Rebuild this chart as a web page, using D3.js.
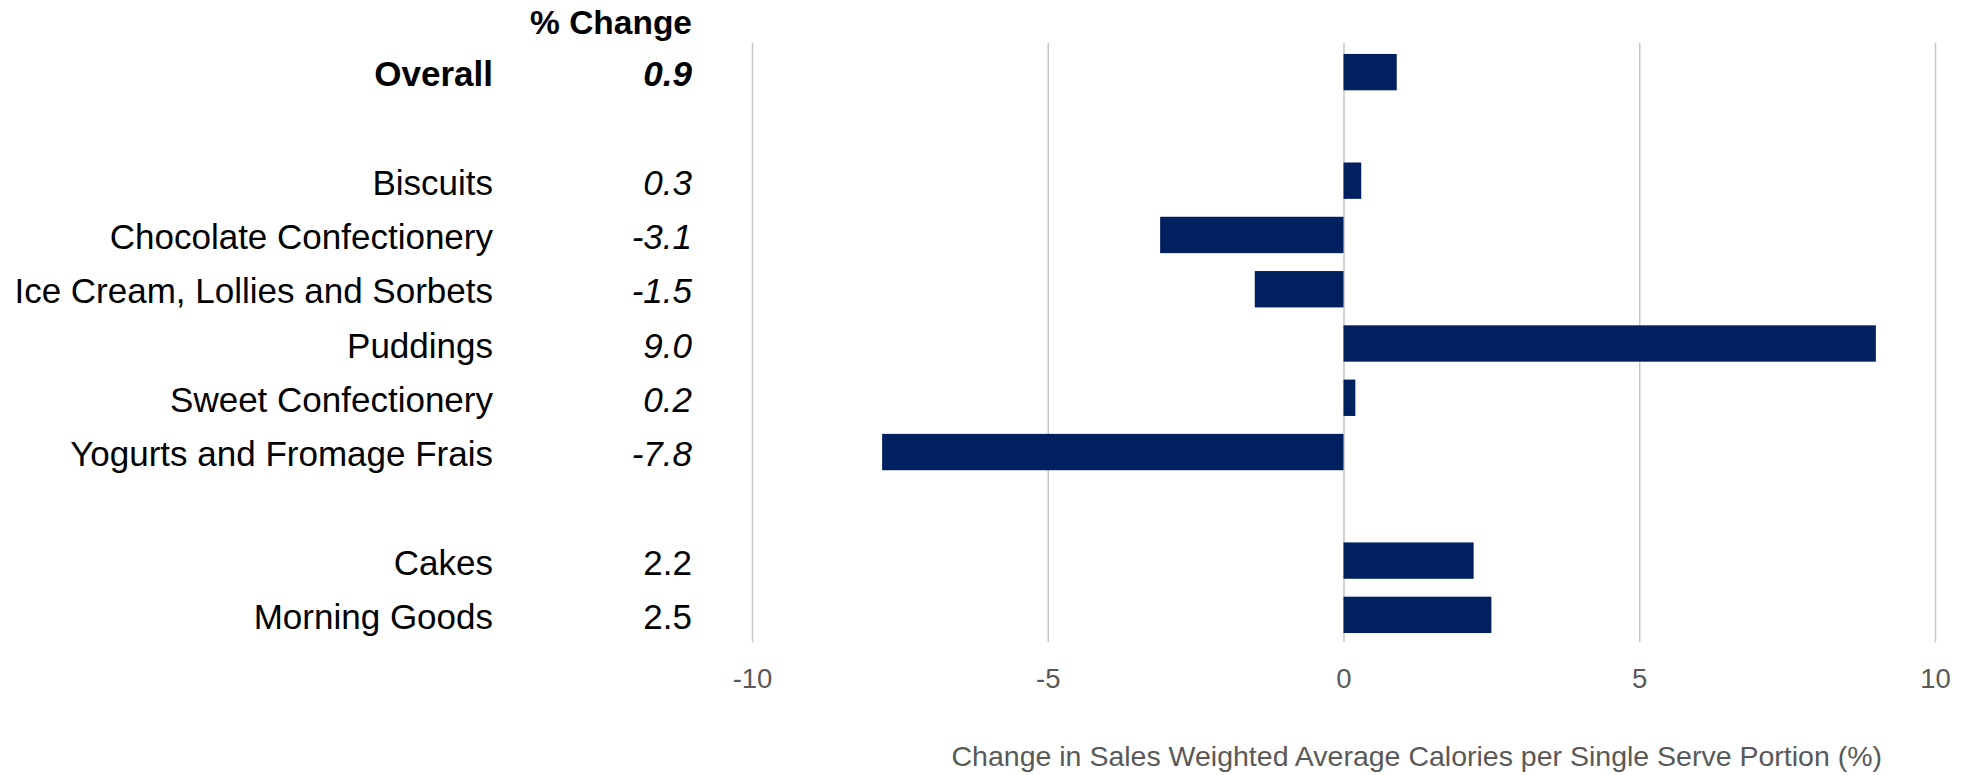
<!DOCTYPE html>
<html>
<head>
<meta charset="utf-8">
<script src="https://cdn.jsdelivr.net/npm/d3@7"></script>
<style>
  body { margin: 0; background: #fff; }
  svg { font-family: "Liberation Sans", Arial, sans-serif; }
  .grid line { stroke: #c6c6c6; stroke-width: 1.5; }
  .grid text { fill: #595959; font-size: 27.5px; }
</style>
</head>
<body>
<svg></svg>
<script>
//Chart data (blank rows are the gaps between groups)
const categories = ["Overall", "", "Biscuits", "Chocolate Confectionery", "Ice Cream, Lollies and Sorbets",
                    "Puddings", "Sweet Confectionery", "Yogurts and Fromage Frais", "", "Cakes", "Morning Goods"];
const values = [0.9, null, 0.3, -3.1, -1.5, 9.0, 0.2, -7.8, null, 2.2, 2.5];
const valueLabels = ["0.9", "", "0.3", "-3.1", "-1.5", "9.0", "0.2", "-7.8", "", "2.2", "2.5"];
const italicLabels = [true, false, true, true, true, true, true, true, false, false, false];
const xTicks = [-10, -5, 0, 5, 10];
const headerText = "% Change";
const axisTitle = "Change in Sales Weighted Average Calories per Single Serve Portion (%)";

function drawChart(){
  const w = 1973;
  const h = 775;
  const gridTop = 43;
  const gridBottom = 642;

  const chart = d3.select("svg")
                  .attr("width", w)
                  .attr("height", h);

  //Scales
  const x = d3.scaleLinear()
              .domain([-10, 10])
              .range([752, 1935]);

  const y = d3.scaleBand()
              .domain(d3.range(categories.length))
              .range([45, gridBottom])
              .paddingInner(0.33)
              .paddingOuter(0.165);

  //Gridlines + tick labels
  const axis = d3.axisBottom(x)
                 .tickValues(xTicks)
                 .tickSize(-(gridBottom - gridTop))
                 .tickPadding(26)
                 .tickFormat(d3.format("d"));

  chart.append("g")
       .attr("class", "grid")
       .attr("transform", `translate(0, ${gridBottom})`)
       .call(axis)
       .call(g => g.select(".domain").remove())
       .call(g => g.selectAll("text").text(d => String(d)).attr("font-family", null).attr("font-size", null));

  //Bars
  const rows = categories.map((c, i) => ({ i: i, name: c, value: values[i] }))
                         .filter(d => d.value !== null);

  chart.append("g")
       .selectAll("rect")
       .data(rows)
       .enter()
       .append("rect")
       .attr("x", d => x(Math.min(0, d.value)))
       .attr("y", d => y(d.i))
       .attr("width", d => Math.abs(x(d.value) - x(0)))
       .attr("height", y.bandwidth())
       .attr("fill", "#002060");

  //Category labels
  chart.append("g")
       .selectAll("text")
       .data(rows)
       .enter()
       .append("text")
       .attr("x", 493)
       .attr("y", d => y(d.i) + y.bandwidth() / 2)
       .attr("dy", "0.4em")
       .attr("text-anchor", "end")
       .attr("font-size", 35)
       .attr("font-weight", d => d.i === 0 ? "bold" : "normal")
       .attr("fill", "#000")
       .text(d => d.name);

  //Value labels
  chart.append("g")
       .selectAll("text")
       .data(rows)
       .enter()
       .append("text")
       .attr("x", 692)
       .attr("y", d => y(d.i) + y.bandwidth() / 2)
       .attr("dy", "0.4em")
       .attr("text-anchor", "end")
       .attr("font-size", 35)
       .attr("font-weight", d => d.i === 0 ? "bold" : "normal")
       .attr("font-style", d => italicLabels[d.i] ? "italic" : "normal")
       .attr("fill", "#000")
       .text(d => valueLabels[d.i]);

  //Header
  chart.append("text")
       .attr("x", 692)
       .attr("y", 34)
       .attr("text-anchor", "end")
       .attr("font-size", 33.5)
       .attr("font-weight", "bold")
       .text(headerText);

  //Axis title
  chart.append("text")
       .attr("x", 1882)
       .attr("y", 766)
       .attr("text-anchor", "end")
       .attr("font-size", 28.5)
       .attr("fill", "#595959")
       .text(axisTitle);
}
drawChart();
</script>
</body>
</html>
